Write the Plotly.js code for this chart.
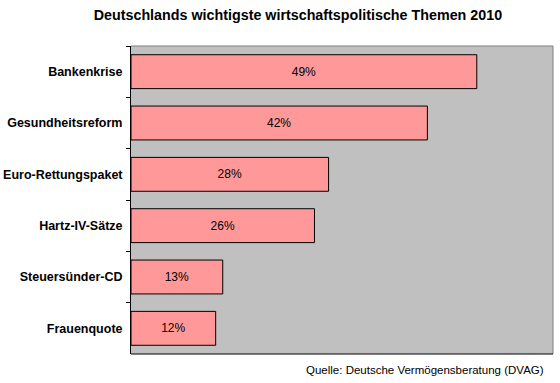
<!DOCTYPE html>
<html><head><meta charset="utf-8">
<script src="https://cdn.plot.ly/plotly-3.0.1.min.js"></script>
<style>body{margin:0;background:#fff}#c{width:560px;height:383px}</style>
</head><body><div id="c"></div>
<script>
const categories = ["Bankenkrise","Gesundheitsreform","Euro-Rettungspaket","Hartz-IV-Sätze","Steuersünder-CD","Frauenquote"];
const values = [49, 42, 28, 26, 13, 12];
const labels = ["49%","42%","28%","26%","13%","12%"];

const trace = {
  type: "bar", orientation: "h",
  x: values, y: categories,
  text: labels, textposition: "inside", insidetextanchor: "middle",
  textfont: {family: "Liberation Sans, Arial, sans-serif", size: 12, color: "#000"},
  marker: {color: "#FF9999", line: {color: "#000", width: 1}},
  width: 0.66, hoverinfo: "none", cliponaxis: false
};
const layout = {
  width: 560, height: 383,
  margin: {l: 131, r: 7, t: 46, b: 29},
  paper_bgcolor: "#fff", plot_bgcolor: "#C0C0C0",
  showlegend: false,
  title: {text: "<b>Deutschlands wichtigste wirtschaftspolitische Themen 2010</b>",
    font: {family: "Liberation Sans, Arial, sans-serif", size: 14.3, color: "#000"},
    x: 0.532, xanchor: "center", y: 0.962, yanchor: "middle"},
  xaxis: {range: [0, 59.8], showticklabels: false, showgrid: false, zeroline: false,
    showline: false, ticks: "", fixedrange: true},
  yaxis: {type: "category", autorange: "reversed", showgrid: false, zeroline: false,
    showline: true, linecolor: "#000", linewidth: 1, ticks: "outside", tickson: "boundaries",
    ticklen: 4, tickcolor: "#000", ticklabelstandoff: 5,
    tickfont: {family: "Liberation Sans, Arial, sans-serif", size: 12.5, color: "#000", weight: "bold"}},
  shapes: [
    {type: "line", xref: "paper", yref: "paper", x0: 0, x1: 1, y0: 1, y1: 1, line: {color: "#808080", width: 1}},
    {type: "line", xref: "paper", yref: "paper", x0: 1, x1: 1, y0: 0, y1: 1, line: {color: "#808080", width: 1}},
    {type: "line", xref: "paper", yref: "paper", x0: 0, x1: 1, y0: 0, y1: 0, line: {color: "#000", width: 1}}
  ],
  annotations: [
    {text: "Quelle: Deutsche Vermögensberatung (DVAG)", xref: "paper", yref: "paper",
     x: 0.984, y: -0.052, xanchor: "right", yanchor: "middle", showarrow: false,
     font: {family: "Liberation Sans, Arial, sans-serif", size: 11.5, color: "#000"}}
  ]
};
Plotly.newPlot("c", [trace], layout, {displayModeBar: false, staticPlot: true});
</script></body></html>
